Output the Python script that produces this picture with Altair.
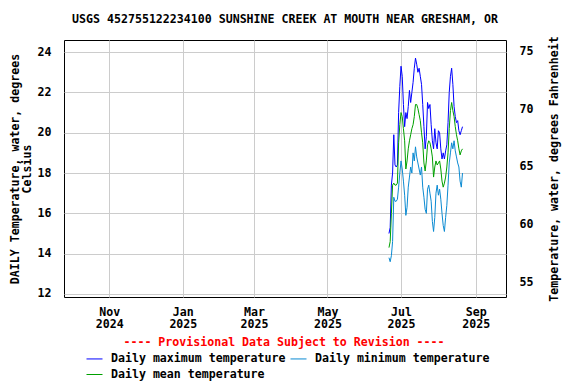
import altair as alt
import pandas as pd

# ---- data ----
start_date = "2025-06-21"
max_c = [15.0, 15.3, 17.4, 18.0, 19.9, 18.4, 18.3, 18.4, 21.0, 22.3,
         23.3, 22.8, 21.4, 20.3, 21.0, 20.7, 21.3, 22.1, 21.5, 22.0,
         22.5, 23.2, 23.7, 23.4, 23.0, 23.2, 22.8, 22.4, 21.4, 20.3,
         19.2, 19.8, 21.5, 21.2, 21.4, 20.4, 19.6, 19.2, 20.2, 19.5,
         19.2, 20.1, 20.0, 19.2, 18.7, 19.0, 18.7, 19.1, 19.4, 20.5,
         22.0, 22.8, 23.2, 22.4, 21.3, 20.8, 20.5, 20.6, 20.1, 19.9,
         20.1, 20.3]
min_c = [13.8, 13.6, 13.9, 14.6, 16.8, 16.6, 16.6, 16.7, 17.3, 18.0,
         18.6, 18.2, 17.6, 16.9, 15.9, 16.3, 17.3, 17.8, 18.3, 18.0,
         19.0, 18.6, 19.3, 18.8, 18.5, 18.2, 17.9, 18.3, 17.3, 16.8,
         16.2, 16.0, 17.2, 17.4, 17.0, 16.6, 15.6, 15.1, 15.8, 17.0,
         17.4, 16.9, 17.2, 16.7, 16.0, 15.4, 15.1, 15.8, 16.4, 17.4,
         18.5, 19.0, 19.5, 19.2, 19.6, 19.1, 18.8, 18.5, 18.3, 17.6,
         17.3, 18.0]
mean_c = [14.3, 14.6, 16.0, 17.4, 17.5, 17.4, 17.4, 17.5, 19.5, 20.4,
          21.0, 20.8, 20.2, 19.6, 18.2, 18.6, 19.2, 19.6, 19.9, 20.2,
          20.4, 20.8, 21.4, 21.4, 21.2, 20.9, 20.6, 20.0, 19.5, 18.5,
          18.1, 18.6, 19.4, 19.6, 19.5, 19.2, 18.8, 17.8, 18.3, 18.6,
          18.4, 18.5, 18.6, 18.2, 17.6, 17.3, 17.5, 17.8, 18.3, 19.0,
          20.2, 21.1, 21.5, 21.1, 20.8, 20.3, 19.9, 19.6, 19.2, 18.9,
          19.1, 19.2]
series_names = ["Daily maximum temperature", "Daily minimum temperature",
                "Daily mean temperature"]
series_colors = ["#0000ff", "#0a8ad2", "#00a000"]
x_ticks = [(2024, 11), (2025, 1), (2025, 3), (2025, 5), (2025, 7), (2025, 9)]
y_ticks_c = [12, 14, 16, 18, 20, 22, 24]
y_ticks_f = [55, 60, 65, 70, 75]
title_text = "USGS 452755122234100 SUNSHINE CREEK AT MOUTH NEAR GRESHAM, OR"
provisional_text = "---- Provisional Data Subject to Revision ----"

dates = pd.date_range(start_date, periods=len(max_c), freq="D").strftime("%Y-%m-%d").tolist()
df = pd.DataFrame({
    "date": dates * 3,
    "temp": max_c + min_c + mean_c,
    "series": [n for n in series_names for _ in dates],
})

FONT = "DejaVu Sans Mono"
FS = 11.6

x_scale = alt.Scale(
    type="utc", nice=False,
    domain=[alt.DateTime(year=2024, month=9, date=24, hours=10, utc=True),
            alt.DateTime(year=2025, month=9, date=26, hours=2, utc=True)],
)
x_axis = alt.Axis(
    title=None,
    values=[alt.DateTime(year=y, month=m, date=1, utc=True) for y, m in x_ticks],
    labelExpr="[utcFormat(datum.value, '%b'), utcFormat(datum.value, '%Y')]",
    grid=True, gridColor="#cccccc", ticks=False, domain=False,
    labelFont=FONT, labelFontSize=FS, labelFontWeight="bold", labelColor="black",
    labelPadding=9, labelLineHeight=12.5,
)

lines = alt.Chart(df).mark_line(strokeWidth=1, clip=True).encode(
    x=alt.X("date:T", scale=x_scale, axis=x_axis),
    y=alt.Y("temp:Q",
            scale=alt.Scale(domain=[11.85, 24.6], nice=False, zero=False),
            axis=alt.Axis(
                title=["DAILY Temperature, water, degrees", "Celsius"],
                values=y_ticks_c, grid=True, gridColor="#cccccc",
                ticks=False, domain=False,
                labelFont=FONT, labelFontSize=FS, labelFontWeight="bold",
                labelColor="black", labelPadding=13,
                titleFont=FONT, titleFontSize=FS, titleFontWeight="bold",
                titleColor="black", titlePadding=5, titleLineHeight=12,
            )),
    color=alt.Color("series:N",
                    scale=alt.Scale(domain=series_names, range=series_colors),
                    sort=series_names,
                    legend=alt.Legend(
                        title=None, orient="none", legendX=22, legendY=310,
                        direction="horizontal",
                        columns=2, columnPadding=2, rowPadding=1,
                        symbolType="stroke", symbolSize=256, symbolStrokeWidth=1,
                        labelOffset=8, labelLimit=400,
                        labelFont=FONT, labelFontSize=FS, labelFontWeight="bold",
                        labelColor="black",
                    )),
)

right = alt.Chart(df).transform_calculate(
    tf="datum.temp * 1.8 + 32"
).mark_line(opacity=0).encode(
    x=alt.X("date:T", scale=x_scale),
    y=alt.Y("tf:Q",
            scale=alt.Scale(domain=[53.7, 76.0], nice=False, zero=False),
            axis=alt.Axis(
                orient="right", title="Temperature, water, degrees Fahrenheit",
                values=y_ticks_f, grid=False, ticks=False, domain=False,
                labelFont=FONT, labelFontSize=FS, labelFontWeight="bold",
                labelColor="black", labelPadding=13,
                titleFont=FONT, titleFontSize=FS, titleFontWeight="bold",
                titleColor="black", titleAngle=270, titlePadding=27,
            )),
    detail="series:N",
)

prov = alt.Chart(pd.DataFrame({"t": [provisional_text]})).mark_text(
    font=FONT, fontSize=FS, fontWeight="bold", color="red",
    align="center", baseline="middle",
).encode(x=alt.value(220), y=alt.value(303), text="t:N")

chart = alt.layer(lines, right, prov).resolve_scale(y="independent").properties(
    width=442, height=257,
    padding={"left": 56, "top": 32, "right": 62, "bottom": 87},
    autosize=alt.AutoSizeParams(type="none"),
    title=alt.TitleParams(title_text, font=FONT, fontSize=FS, fontWeight="bold",
                          color="black", anchor="middle", frame="group", offset=10),
).configure_view(stroke="black", strokeWidth=1)

chart.save("out.html", embed_options={"renderer": "svg", "actions": False})
